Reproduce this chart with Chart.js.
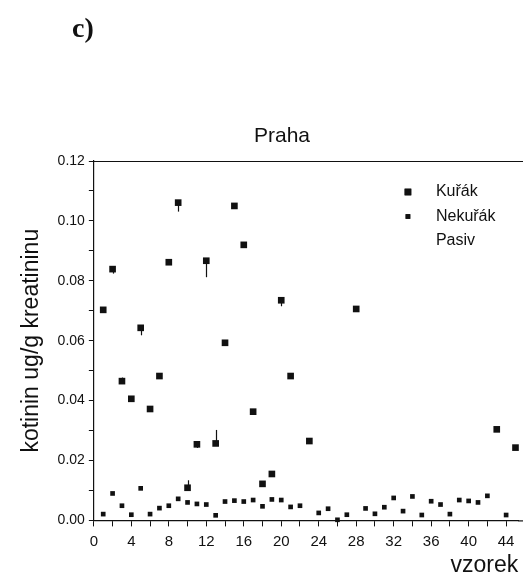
<!DOCTYPE html>
<html>
<head>
	<title>Praha - kotinin</title>
	<meta charset="UTF-8">
	<script src="https://cdn.jsdelivr.net/npm/chart.js"></script>
	<style type="text/css">
		body { margin: 0; background: #fff; }
		.wrap { position: relative; width: 523px; height: 579px; overflow: hidden; }
		.panel {
			position: absolute; left: 72px; top: 12px;
			font: bold 28px "Liberation Serif", "DejaVu Serif", serif;
			color: #111;
		}
		.ttl {
			position: absolute; left: 232px; width: 100px; top: 123px; text-align: center;
			font: 21px "Liberation Sans", Arial, sans-serif;
			color: #111;
		}
	</style>
</head>
<body>
<div class="wrap">
	<div class="panel">c)</div>
	<div class="ttl">Praha</div>
	<canvas id="chart"></canvas>
</div>
<script type="text/javascript">
// samples (vzorek) and kotinin values
var kurakX = [1, 2, 3, 4, 5, 6, 7, 8, 9, 10, 11, 12, 13, 14, 15, 16, 17, 18, 19, 20, 21, 23, 28, 43, 45];
var kurakY = [0.0703, 0.0839, 0.0465, 0.0406, 0.0643, 0.0372, 0.0482, 0.0862, 0.1061, 0.0109, 0.0254, 0.0867, 0.0257,
              0.0593, 0.1050, 0.0920, 0.0363, 0.0122, 0.0155, 0.0735, 0.0482, 0.0265, 0.0706, 0.0304, 0.0243];
// error whiskers: + goes up, - goes down
var kurakErr = [0, -0.0015, 0.0012, 0, -0.0025, 0, 0, 0, -0.003, 0.0025, -0.0012, -0.0055, 0.0045,
                0, 0, 0, 0, 0, 0, -0.002, 0, 0, 0, 0, 0];

var nekurakX = [1, 2, 3, 4, 5, 6, 7, 8, 9, 10, 11, 12, 13, 14, 15, 16, 17, 18, 19, 20, 21, 22,
                24, 25, 26, 27, 29, 30, 31, 32, 33, 34, 35, 36, 37, 38, 39, 40, 41, 42, 44];
var nekurakY = [0.0021, 0.0090, 0.0049, 0.0019, 0.0107, 0.0021, 0.0041, 0.0049, 0.0072, 0.0060, 0.0055, 0.0053,
                0.0017, 0.0063, 0.0066, 0.0063, 0.0068, 0.0047, 0.0070, 0.0068, 0.0045, 0.0049,
                0.0025, 0.0039, 0.0002, 0.0019, 0.0040, 0.0022, 0.0044, 0.0075, 0.0031, 0.0080, 0.0018,
                0.0064, 0.0053, 0.0021, 0.0068, 0.0065, 0.0060, 0.0082, 0.0018];

var seriesNames = ["Kuřák", "Nekuřák", "Pasiv"];

// x ticks (labelled every 4th sample, minor ticks between)
var xTicks = [0, 2, 4, 6, 8, 10, 12, 14, 16, 18, 20, 22, 24, 26, 28, 30, 32, 34, 36, 38, 40, 42, 44];

function pts(xs, ys) {
  var out = [];
  for (var i = 0; i < xs.length; i++) out.push({x: xs[i], y: ys[i]});
  return out;
}

var FONT = "'Liberation Sans', Arial, sans-serif";
var INK = '#111';

// whiskers drawn through the scales
var errorBars = {
  id: 'errorBars',
  afterDatasetsDraw: function(chart) {
    var ctx = chart.ctx, xs = chart.scales.x, ys = chart.scales.y;
    ctx.save();
    ctx.strokeStyle = INK;
    ctx.lineWidth = 1.2;
    for (var i = 0; i < kurakX.length; i++) {
      if (!kurakErr[i]) continue;
      var px = Math.round(xs.getPixelForValue(kurakX[i])) + 0.5;
      ctx.beginPath();
      ctx.moveTo(px, ys.getPixelForValue(kurakY[i]));
      ctx.lineTo(px, ys.getPixelForValue(kurakY[i] + kurakErr[i]));
      ctx.stroke();
    }
    ctx.restore();
  }
};

// box line on top of the plot
var frame = {
  id: 'frame',
  afterDraw: function(chart) {
    var a = chart.chartArea, ctx = chart.ctx;
    ctx.save();
    ctx.strokeStyle = INK;
    ctx.lineWidth = 1.2;
    ctx.beginPath();
    ctx.moveTo(a.left, a.top + 0.5);
    ctx.lineTo(chart.width, a.top + 0.5);
    ctx.stroke();
    ctx.beginPath();
    ctx.moveTo(a.right, a.bottom + 0.5);
    ctx.lineTo(chart.width, a.bottom + 0.5);
    ctx.stroke();
    ctx.restore();
  }
};

// legend inside the plot, vertical list
var innerLegend = {
  id: 'innerLegend',
  afterDraw: function(chart) {
    var a = chart.chartArea, ctx = chart.ctx;
    var mx = a.left + 0.74 * (a.right - a.left);
    var y0 = a.top + 31;
    ctx.save();
    ctx.font = '16px ' + FONT;
    ctx.fillStyle = INK;
    ctx.textBaseline = 'middle';
    chart.data.datasets.forEach(function(ds, i) {
      var y = y0 + i * 24.5;
      if (ds.pointRadius > 0) {
        ctx.fillStyle = INK;
        Chart.helpers.drawPoint(ctx, {pointStyle: ds.pointStyle, rotation: 0, radius: ds.pointRadius, borderWidth: 0}, mx, y);
        ctx.fill();
      }
      ctx.fillStyle = INK;
      ctx.fillText(ds.label, mx + 28, y);
    });
    ctx.restore();
  }
};

new Chart(document.getElementById('chart'), {
  type: 'scatter',
  data: {
    datasets: [
      { label: seriesNames[0], data: pts(kurakX, kurakY), pointStyle: 'rect', pointRadius: 4.7,
        backgroundColor: INK, borderColor: INK, borderWidth: 0, clip: false },
      { label: seriesNames[1], data: pts(nekurakX, nekurakY), pointStyle: 'rect', pointRadius: 3.3,
        backgroundColor: INK, borderColor: INK, borderWidth: 0, clip: false },
      { label: seriesNames[2], data: [], pointRadius: 0, backgroundColor: INK }
    ]
  },
  options: {
    responsive: true,
    maintainAspectRatio: false,
    animation: false,
    layout: { padding: { left: 18, right: 0, top: 161, bottom: 0 } },
    plugins: {
      legend: { display: false },
      tooltip: { enabled: false }
    },
    scales: {
      x: {
        type: 'linear', min: 0, max: 45.3,
        afterBuildTicks: function(scale) {
          scale.ticks = xTicks.map(function(v) { return {value: v}; });
        },
        afterFit: function(scale) { scale.paddingRight = 0; },
        border: { color: INK, width: 1.2 },
        grid: { drawOnChartArea: false, tickLength: 6, color: INK, tickColor: INK },
        ticks: {
          autoSkip: false, maxRotation: 0, padding: 6, color: INK,
          font: { family: FONT, size: 15 },
          callback: function(v) { return v % 4 === 0 ? String(v) : ''; }
        },
        title: { display: true, text: 'vzorek', align: 'end', color: INK,
                 font: { family: FONT, size: 23 }, padding: { top: -5, bottom: 0 } }
      },
      y: {
        min: 0, max: 0.12,
        border: { color: INK, width: 1.2 },
        grid: { drawOnChartArea: false, tickLength: 5, color: INK, tickColor: INK },
        ticks: {
          stepSize: 0.01, autoSkip: false, padding: 4, color: INK,
          font: { family: FONT, size: 14 },
          callback: function(v) {
            var k = Math.round(v * 100);
            return k % 2 === 0 ? (k / 100).toFixed(2) : '';
          }
        },
        title: { display: true, text: 'kotinin ug/g kreatininu', color: INK,
                 font: { family: FONT, size: 23 }, padding: { top: 0, bottom: 8 } }
      }
    }
  },
  plugins: [errorBars, frame, innerLegend]
});
</script>
</body>
</html>
